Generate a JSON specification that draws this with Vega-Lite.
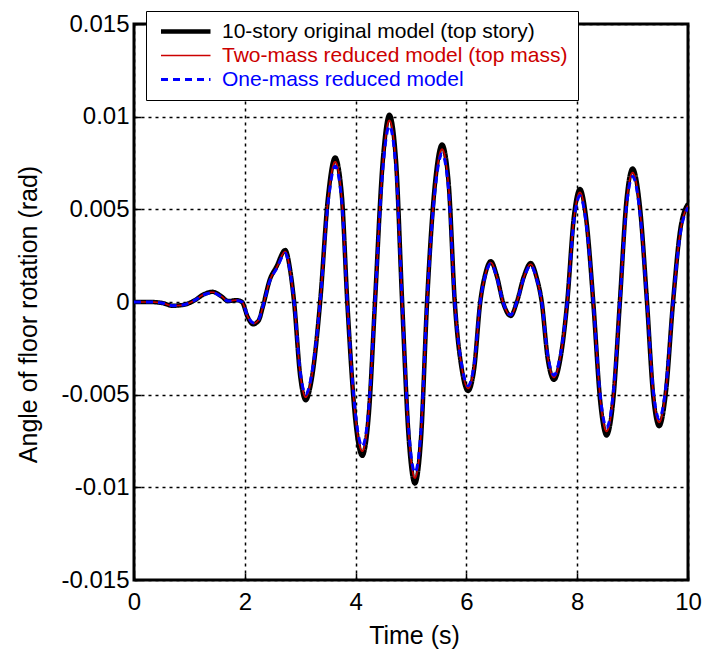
{
  "$schema": "https://vega.github.io/schema/vega-lite/v6.json",
  "width": 554,
  "height": 556,
  "autosize": "none",
  "padding": {"left": 134, "top": 24, "right": 17, "bottom": 71},
  "background": "white",
  "config": {
    "font": "Liberation Sans",
    "view": {"stroke": "black", "strokeWidth": 3},
    "axis": {
      "grid": true, "gridColor": "black", "gridDash": [3, 4], "gridWidth": 1.5, "gridOpacity": 1,
      "domain": false, "ticks": true, "tickColor": "black", "tickSize": -7, "tickWidth": 1.5,
      "labelColor": "black", "labelFontSize": 24, "labelFont": "Liberation Sans", "labelFlush": false,
      "titleColor": "black", "titleFontSize": 25, "titleFontWeight": "normal", "titleFont": "Liberation Sans"
    }
  },
  "data": {"values": [
    {"t": 0, "o": 0, "r": 0, "b": 0},
    {"t": 0.3, "o": 0, "r": 0, "b": 0},
    {"t": 0.5, "o": -0.00005, "r": -0.00005, "b": -0.00005},
    {"t": 0.7, "o": -0.0002, "r": -0.0002, "b": -0.0002},
    {"t": 0.9, "o": -0.00015, "r": -0.00015, "b": -0.00015},
    {"t": 1.1, "o": 0.0001, "r": 0.0001, "b": 0.0001},
    {"t": 1.25, "o": 0.0004, "r": 0.0004, "b": 0.00038},
    {"t": 1.42, "o": 0.00055, "r": 0.00053, "b": 0.0005},
    {"t": 1.58, "o": 0.0003, "r": 0.0003, "b": 0.00028},
    {"t": 1.7, "o": 0.00005, "r": 0.00005, "b": 0.00005},
    {"t": 1.85, "o": 0.0001, "r": 0.0001, "b": 0.00008},
    {"t": 1.95, "o": 0, "r": 0, "b": 0},
    {"t": 2.05, "o": -0.0008, "r": -0.00078, "b": -0.00075},
    {"t": 2.15, "o": -0.0012, "r": -0.00116, "b": -0.00112},
    {"t": 2.25, "o": -0.001, "r": -0.00097, "b": -0.00094},
    {"t": 2.33, "o": -0.0002, "r": -0.0002, "b": -0.0002},
    {"t": 2.45, "o": 0.0012, "r": 0.00116, "b": 0.00112},
    {"t": 2.57, "o": 0.0019, "r": 0.00184, "b": 0.00178},
    {"t": 2.73, "o": 0.0028, "r": 0.00272, "b": 0.00263},
    {"t": 2.82, "o": 0.0017, "r": 0.00165, "b": 0.0016},
    {"t": 2.89, "o": 0, "r": 0, "b": 0},
    {"t": 3.0, "o": -0.004, "r": -0.00388, "b": -0.00376},
    {"t": 3.1, "o": -0.0053, "r": -0.00514, "b": -0.00498},
    {"t": 3.2, "o": -0.0043, "r": -0.00417, "b": -0.00404},
    {"t": 3.36, "o": 0, "r": 0, "b": 0},
    {"t": 3.5, "o": 0.0056, "r": 0.00543, "b": 0.00526},
    {"t": 3.63, "o": 0.0078, "r": 0.00757, "b": 0.00733},
    {"t": 3.75, "o": 0.0058, "r": 0.00563, "b": 0.00545},
    {"t": 3.85, "o": 0, "r": 0, "b": 0},
    {"t": 4.0, "o": -0.0065, "r": -0.0063, "b": -0.0061},
    {"t": 4.12, "o": -0.0083, "r": -0.00805, "b": -0.0078},
    {"t": 4.24, "o": -0.006, "r": -0.00582, "b": -0.00564},
    {"t": 4.35, "o": 0, "r": 0, "b": 0},
    {"t": 4.49, "o": 0.0076, "r": 0.00737, "b": 0.00714},
    {"t": 4.61, "o": 0.0101, "r": 0.0098, "b": 0.0095},
    {"t": 4.73, "o": 0.0076, "r": 0.00737, "b": 0.00714},
    {"t": 4.84, "o": 0, "r": 0, "b": 0},
    {"t": 4.96, "o": -0.0074, "r": -0.00718, "b": -0.00696},
    {"t": 5.07, "o": -0.0098, "r": -0.0095, "b": -0.0092},
    {"t": 5.18, "o": -0.0074, "r": -0.00718, "b": -0.00696},
    {"t": 5.29, "o": 0, "r": 0, "b": 0},
    {"t": 5.44, "o": 0.0066, "r": 0.0064, "b": 0.0062},
    {"t": 5.56, "o": 0.0085, "r": 0.00825, "b": 0.008},
    {"t": 5.68, "o": 0.0064, "r": 0.0062, "b": 0.006},
    {"t": 5.79, "o": 0, "r": 0, "b": 0},
    {"t": 5.92, "o": -0.0037, "r": -0.00359, "b": -0.00348},
    {"t": 6.03, "o": -0.0048, "r": -0.00466, "b": -0.00451},
    {"t": 6.14, "o": -0.0036, "r": -0.00349, "b": -0.00338},
    {"t": 6.25, "o": 0, "r": 0, "b": 0},
    {"t": 6.34, "o": 0.0015, "r": 0.00146, "b": 0.00141},
    {"t": 6.44, "o": 0.0022, "r": 0.00213, "b": 0.00207},
    {"t": 6.55, "o": 0.0014, "r": 0.00136, "b": 0.00132},
    {"t": 6.66, "o": 0, "r": 0, "b": 0},
    {"t": 6.8, "o": -0.00075, "r": -0.00073, "b": -0.0007},
    {"t": 6.91, "o": 0, "r": 0, "b": 0},
    {"t": 7.04, "o": 0.0014, "r": 0.00136, "b": 0.00132},
    {"t": 7.16, "o": 0.0021, "r": 0.00204, "b": 0.00197},
    {"t": 7.27, "o": 0.0013, "r": 0.00126, "b": 0.00122},
    {"t": 7.36, "o": 0, "r": 0, "b": 0},
    {"t": 7.47, "o": -0.0031, "r": -0.003, "b": -0.0029},
    {"t": 7.58, "o": -0.0042, "r": -0.00407, "b": -0.00395},
    {"t": 7.7, "o": -0.003, "r": -0.0029, "b": -0.0028},
    {"t": 7.82, "o": 0, "r": 0, "b": 0},
    {"t": 7.94, "o": 0.0046, "r": 0.00446, "b": 0.00432},
    {"t": 8.05, "o": 0.0061, "r": 0.00592, "b": 0.00573},
    {"t": 8.17, "o": 0.0043, "r": 0.00417, "b": 0.00404},
    {"t": 8.29, "o": 0, "r": 0, "b": 0},
    {"t": 8.42, "o": -0.0055, "r": -0.00534, "b": -0.00517},
    {"t": 8.53, "o": -0.0072, "r": -0.00698, "b": -0.00677},
    {"t": 8.65, "o": -0.0053, "r": -0.00514, "b": -0.00498},
    {"t": 8.77, "o": 0, "r": 0, "b": 0},
    {"t": 8.89, "o": 0.0055, "r": 0.00534, "b": 0.00517},
    {"t": 9.0, "o": 0.0072, "r": 0.00698, "b": 0.00677},
    {"t": 9.13, "o": 0.0052, "r": 0.00504, "b": 0.00489},
    {"t": 9.26, "o": 0, "r": 0, "b": 0},
    {"t": 9.37, "o": -0.005, "r": -0.00485, "b": -0.0047},
    {"t": 9.48, "o": -0.0067, "r": -0.0065, "b": -0.0063},
    {"t": 9.6, "o": -0.0049, "r": -0.00475, "b": -0.0046},
    {"t": 9.73, "o": 0, "r": 0, "b": 0},
    {"t": 9.86, "o": 0.0039, "r": 0.00378, "b": 0.00367},
    {"t": 10, "o": 0.0053, "r": 0.0052, "b": 0.0051}
  ]},
  "transform": [{"fold": ["o", "r", "b"], "as": ["s", "v"]}],
  "mark": {"type": "line", "interpolate": "monotone", "clip": true},
  "encoding": {
    "x": {"field": "t", "type": "quantitative",
      "scale": {"domain": [0, 10], "nice": false},
      "axis": {"values": [0, 2, 4, 6, 8, 10], "title": "Time (s)", "labelPadding": 17,
        "titleBaseline": "alphabetic", "titleY": 63, "titleX": 280}},
    "y": {"field": "v", "type": "quantitative",
      "scale": {"domain": [-0.015, 0.015], "nice": false, "zero": false},
      "axis": {"values": [-0.015, -0.01, -0.005, 0, 0.005, 0.01, 0.015],
        "labelExpr": "'' + datum.value", "labelPadding": 12,
        "title": "Angle of floor rotation (rad)", "titleBaseline": "middle", "titleX": -106, "titleY": 290, "titleAngle": -90}},
    "color": {"field": "s", "type": "nominal",
      "scale": {"domain": ["o", "r", "b"], "range": ["#000000", "#cc0000", "#0000ff"]},
      "legend": {"title": null, "orient": "none", "legendX": 12, "legendY": -13,
        "fillColor": "white", "strokeColor": "black", "padding": 10,
        "labelFontSize": 21, "labelLimit": 600, "labelFont": "Liberation Sans",
        "labelExpr": "datum.value == 'o' ? '10-story original model (top story)' : datum.value == 'r' ? 'Two-mass reduced model (top mass)' : 'One-mass reduced model'",
        "labelColor": {"expr": "datum.value == 'o' ? '#000000' : datum.value == 'r' ? '#cc0000' : '#0000ff'"},
        "symbolType": "M-1,0H8", "symbolSize": 121, "labelOffset": 45, "rowPadding": 2}},
    "strokeDash": {"field": "s", "type": "nominal",
      "scale": {"domain": ["o", "r", "b"], "range": [[1, 0], [1, 0], [7, 5]]}},
    "strokeWidth": {"field": "s", "type": "nominal",
      "scale": {"type": "ordinal", "domain": ["o", "r", "b"], "range": [4.5, 1.6, 3]}}
  }
}
